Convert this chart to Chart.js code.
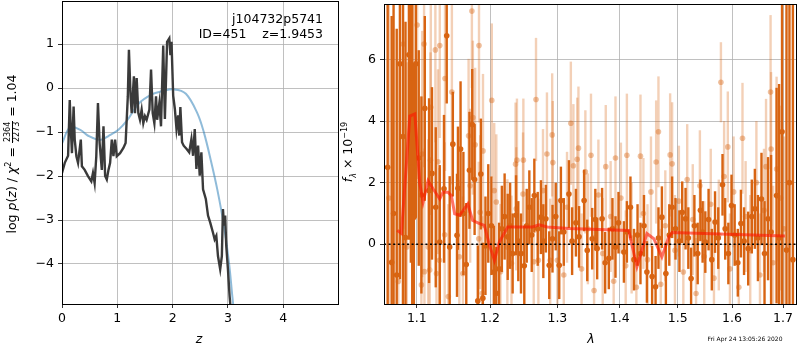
<!DOCTYPE html>
<html>
<head>
<meta charset="utf-8">
<script src="https://cdn.jsdelivr.net/npm/chart.js@4"></script>
<style>
  body { margin: 0; background: #fff; width: 800px; height: 350px; position: relative; overflow: hidden;
         font-family: "DejaVu Sans", sans-serif; color: #000; }
  canvas { position: absolute; top: 0; }
  #pz { left: 0; }
  #spec { left: 345px; }
  .lbl { position: absolute; font-size: 12.5px; white-space: pre; line-height: 1; font-weight: normal; color: #000; }
  .vert { text-align: center; height: 20px; line-height: 20px; transform: rotate(-90deg); }
  .ctr { transform: translate(-50%, -50%); }
  .frac { display: inline-block; vertical-align: middle; text-align: center; font-size: 8px; line-height: 1; }
  .frac span { display: block; padding: 0 1px; }
  .frac .num { border-bottom: 1px solid #000; }
</style>
</head>
<body>
<canvas id="pz" width="345" height="350"></canvas>
<canvas id="spec" width="455" height="350"></canvas>

<div class="lbl vert" style="left:-108px;top:144px;width:240px">log <i>p</i>(<i>z</i>) / <i>χ</i><sup style="font-size:8px;line-height:0">2</sup> = <span class="frac"><span class="num">2364</span><span>2273</span></span> = 1.04</div>
<div class="lbl ctr" style="left:199px;top:339px"><i>z</i></div>
<div class="lbl" style="right:477px;top:13px">j104732p5741</div>
<div class="lbl" style="right:477px;top:28px">ID=451    z=1.9453</div>

<div class="lbl vert" style="left:288px;top:142px;width:120px"><i>f</i><sub style="font-size:8px;line-height:0"><i>λ</i></sub> × 10<sup style="font-size:8px;line-height:0">−19</sup></div>
<div class="lbl ctr" style="left:591px;top:339px"><i>λ</i></div>
<div class="lbl ctr" style="left:745px;top:339px;font-size:6px">Fri Apr 24 13:05:26 2020</div>

<script>
// ---- p(z) panel ----
const zTicks = [0, 1, 2, 3, 4];
const lpzTicks = [-4, -3, -2, -1, 0, 1];

const zGrid = [0, 0.05, 0.11, 0.14, 0.16, 0.18, 0.21, 0.23, 0.26, 0.29, 0.34, 0.36, 0.41, 0.47, 0.53, 0.56, 0.59,
  0.62, 0.65, 0.68, 0.72, 0.75, 0.78, 0.81, 0.84, 0.87, 0.90, 0.93, 0.96, 0.99, 1.05, 1.11, 1.15, 1.19, 1.21,
  1.24, 1.26, 1.30, 1.32, 1.35, 1.38, 1.41, 1.44, 1.47, 1.50, 1.53, 1.58, 1.61, 1.64, 1.67, 1.70, 1.72, 1.76,
  1.79, 1.83, 1.86, 1.90, 1.94, 1.96, 1.98, 2.01, 2.04, 2.07, 2.10, 2.12, 2.14, 2.17, 2.20, 2.25, 2.30, 2.34,
  2.37, 2.40, 2.43, 2.46, 2.49, 2.52, 2.55, 2.60, 2.64, 2.68, 2.73, 2.76, 2.79, 2.82, 2.86, 2.89, 2.91, 2.93,
  2.95, 2.97, 3.00, 3.03, 3.05, 3.08];
const logPz = [-1.93, -1.70, -1.54, -0.27, -0.95, -1.48, -0.42, -1.17, -1.55, -1.70, -1.17, -1.78, -1.86, -2.00,
  -2.12, -1.93, -2.16, -1.55, -0.34, -1.25, -1.86, -0.87, -2.00, -2.08, -1.86, -1.70, -1.17, -1.55, -1.17, -1.55,
  -1.48, -1.36, -1.25, -0.19, 0.87, -0.19, -0.57, 0.27, -0.57, 0.23, -0.57, -0.72, -0.49, -0.80, -0.64, -0.72,
  -0.49, 0.42, -0.57, -0.80, -0.19, -0.72, -0.34, -0.87, 0.97, -0.70, 1.05, 1.13, 0.75, 1.05, -0.17, -0.47,
  -0.93, -0.62, -1.08, -0.43, -1.23, -1.31, -1.38, -1.46, -1.16, -1.54, -0.93, -1.84, -1.31, -1.99, -1.46,
  -2.30, -2.52, -2.90, -3.06, -3.29, -3.44, -3.36, -3.82, -4.12, -3.82, -2.75, -3.13, -2.90, -3.59, -4.12,
  -4.73, -5.03, -5.50];

const zFit = [0, 0.145, 0.33, 0.48, 0.69, 0.84, 1.02, 1.18, 1.39, 1.63, 1.78, 2.03, 2.24, 2.45, 2.57, 2.69, 2.81,
  2.93, 3.02, 3.08, 3.15];
const logPzFit = [-1.26, -0.89, -0.95, -1.09, -1.18, -1.09, -0.95, -0.73, -0.35, -0.14, -0.08, -0.03, -0.13, -0.58,
  -1.03, -1.64, -2.32, -3.15, -3.98, -4.74, -5.60];

// ---- spectrum panel ----
const lamMin = 1.0579, lamMax = 1.7264;
const lamTicks = [1.1, 1.2, 1.3, 1.4, 1.5, 1.6, 1.7];
const fluxTicks = [0, 2, 4, 6];

const darkLam = [1.0625, 1.0676, 1.0700, 1.0740, 1.0781, 1.0820, 1.0853, 1.0897, 1.0922, 1.0940, 1.0961, 1.0987,
  1.1025, 1.1060, 1.1105, 1.1161, 1.1200, 1.1250, 1.1304, 1.1361, 1.1398, 1.1438, 1.1481, 1.1538, 1.1551, 1.1587,
  1.1626, 1.1666, 1.1710, 1.1749, 1.1782, 1.1827, 1.1870, 1.1898, 1.1935, 1.1975, 1.2020, 1.2055, 1.2089, 1.2130,
  1.2170, 1.2210, 1.2255, 1.2290, 1.2327, 1.2377, 1.2410, 1.2450, 1.2499, 1.2535, 1.2574, 1.2610, 1.2649, 1.2700,
  1.2749, 1.2785, 1.2824, 1.2875, 1.2925, 1.2975, 1.3029, 1.3055, 1.3100, 1.3180, 1.3230, 1.3290, 1.3340, 1.3420,
  1.3470, 1.3550, 1.3600, 1.3630, 1.3710, 1.3760, 1.3820, 1.3880, 1.3930, 1.3980, 1.4070, 1.4120, 1.4180, 1.4240,
  1.4300, 1.4350, 1.4410, 1.4460, 1.4550, 1.4610, 1.4660, 1.4720, 1.4790, 1.4850, 1.4900, 1.4960, 1.5030, 1.5080,
  1.5140, 1.5190, 1.5240, 1.5300, 1.5360, 1.5410, 1.5450, 1.5500, 1.5560, 1.5620, 1.5680, 1.5740, 1.5820, 1.5870,
  1.5930, 1.5990, 1.6050, 1.6110, 1.6170, 1.6230, 1.6310, 1.6380, 1.6440, 1.6500, 1.6570, 1.6630, 1.6700, 1.6760,
  1.6870, 1.6920, 1.6980, 1.7070, 1.7130, 1.7200];
const darkFlux = [2.5, -0.59, 1.0, -1.0, 5.86, 3.5, 0.22, 6.15, 5.4, 2.5, 0.88, 5.86,
  2.8, 1.6, 4.41, 1.74, 2.3, 1.2, 0.07, 1.8, 6.77, -0.09, 3.25, 0.29, 1.82, 3.09,
  1.0, -0.66, 2.4, 3.89, 2.1, -1.84, 2.28, -1.75, -0.05, 1.0, 0.6, -0.9, -1.59, -0.8,
  0.5, 0.9, 0.24, 0.6, -0.3, 0.94, 0.1, -0.3, -0.7, 0.6, 1.2, 0.3, 1.58, 0.5,
  0.88, 0.1, 0.83, -0.68, 0.18, 0.9, -0.68, 1.42, 0.4, 1.63, 0.1, 0.7, 0.24, 1.42,
  -0.2, 0.18, 0.8, -0.14, 0.83, -0.6, -0.46, 0.5, -0.09, 0.7, -0.25, 0.4, 1.2, -0.5,
  0.3, -0.3, 0.6, -0.9, -1.05, -1.38, 0.2, 0.88, -0.95, 0.3, 1.2, 0.5, 0.1, 1.04,
  0.83, 0.2, -1.11, 0.6, -0.3, 1.1, 0.4, 0.07, 0.8, -0.5, 0.72, 0.2, 1.93, 0.5,
  -0.3, 1.26, 0.3, -0.6, 0.67, 0.1, -0.14, 0.9, 1.15, 0.2, 1.47, -0.3, 0.83, 0.4,
  1.58, 0.2, 3.65, -0.19, 2.0, -0.5];
const darkErr = [9, 8, 8, 8, 7, 7, 7, 6, 6, 6, 5, 5,
  3.5, 3.2, 3.0, 3.0, 2.8, 2.6, 2.5, 2.4, 2.2, 2.3, 1.7, 2.0, 2.0, 2.2,
  2.0, 2.0, 1.9, 1.8, 1.8, 1.8, 1.8, 1.8, 1.6, 1.6, 1.6, 1.5, 1.5, 1.5,
  1.4, 1.4, 1.4, 1.4, 1.3, 1.3, 1.3, 1.3, 1.3, 1.2, 1.2, 1.2, 1.2, 1.2,
  1.2, 1.2, 1.1, 1.1, 1.1, 1.1, 1.1, 1.1, 1.1, 1.1, 1.1, 1.1, 1.0, 1.0,
  1.0, 1.0, 1.0, 1.0, 1.0, 1.0, 1.0, 1.0, 1.0, 1.0, 1.0, 1.0, 1.0, 1.0,
  1.0, 1.0, 1.0, 1.0, 1.0, 1.0, 1.0, 1.0, 1.0, 1.0, 1.0, 1.0, 1.0, 1.0,
  1.0, 1.0, 1.0, 1.0, 1.0, 1.0, 1.0, 1.0, 1.0, 1.0, 1.0, 1.0, 1.0, 1.0,
  1.0, 1.0, 1.0, 1.1, 1.1, 1.1, 1.2, 1.2, 1.3, 1.4, 1.5, 1.7, 2.0, 2.5,
  3.5, 5, 6, 8, 9, 10];

const lightLam = [1.0640, 1.0760, 1.0823, 1.0870, 1.0950, 1.1004, 1.1060, 1.1070, 1.1095, 1.1100, 1.1150, 1.1170,
  1.1180, 1.1184, 1.1245, 1.1260, 1.1280, 1.1300, 1.1304, 1.1370, 1.1375, 1.1420, 1.1468, 1.1570, 1.1620, 1.1698,
  1.1720, 1.1744, 1.1758, 1.1790, 1.1840, 1.1844, 1.1860, 1.1890, 1.1900, 1.2025, 1.2060, 1.2090, 1.2150, 1.2250,
  1.2310, 1.2370, 1.2380, 1.2390, 1.2480, 1.2485, 1.2640, 1.2674, 1.2710, 1.2780, 1.2840, 1.2890, 1.2920, 1.2930,
  1.3000, 1.3100, 1.3150, 1.3210, 1.3250, 1.3310, 1.3330, 1.3380, 1.3440, 1.3480, 1.3530, 1.3580, 1.3650, 1.3720,
  1.3770, 1.3850, 1.3900, 1.3930, 1.4020, 1.4100, 1.4120, 1.4200, 1.4280, 1.4350, 1.4400, 1.4470, 1.4530, 1.4620,
  1.4660, 1.4700, 1.4780, 1.4865, 1.4900, 1.4950, 1.5020, 1.5100, 1.5170, 1.5270, 1.5330, 1.5400, 1.5480, 1.5600,
  1.5660, 1.5750, 1.5790, 1.5850, 1.5920, 1.5960, 1.6030, 1.6130, 1.6200, 1.6260, 1.6350, 1.6470, 1.6540, 1.6620,
  1.6660, 1.6750, 1.6760, 1.6800, 1.6870, 1.6950, 1.7020];
const lightFlux = [1.5, -1.21, 6.5, -0.09, 3.0, 7.12, -1.32, 2.93, 6.5, -0.89, -0.09, -0.84,
  2.73, 4.45, 6.31, -0.95, 2.68, -0.52, 6.45, 0.31, 5.38, -1.7, 4.94, -0.41, -0.95, 3.52,
  1.9, 7.57, 4.11, 3.23, 0.18, 6.45, 1.04, -1.59, 3.03, 4.67, 1.74, 1.37, -0.89, -0.09,
  -0.62, 2.6, 1.15, 2.73, 1.63, 2.73, -0.57, 4.7, -0.52, 1.74, 2.93, -0.52, 3.55, 2.65,
  -0.52, -1.0, 1.2, 3.93, 2.55, 2.76, 3.12, -0.8, 2.35, 0.5, 2.89, -1.5, 1.6, -0.3,
  2.52, 0.9, -1.2, 2.8, 1.5, -0.7, 2.89, 0.2, -1.4, 2.86, 1.0, -0.5, 1.7, 2.67,
  3.65, -1.3, 0.6, 2.9, 2.61, -0.2, 1.4, -0.9, 2.1, 0.8, -1.6, 1.9, -0.4, 1.3,
  -1.1, 0.3, 5.26, 2.2, 3.16, -0.8, 1.7, -1.4, 3.44, 0.9, -0.2, 2.0, -1.0, 1.1,
  2.52, 4.94, 3.09, -0.6, 2.44, 1.5, 0.5];
const lightErr = [8, 7, 6, 6, 6, 5, 4, 4, 4, 4, 3.5, 3.5,
  3.5, 3.5, 3, 3, 3, 3, 3, 3, 3, 3, 3, 2.5, 2.5, 2.5,
  2.5, 2.5, 2.5, 2.5, 2.5, 2.5, 2.5, 2.5, 2.5, 2.5, 2.2, 2.2, 2.2, 2.2,
  2.2, 2, 2, 2, 2, 2, 2, 2, 2, 2, 2, 2, 2, 2,
  2, 1.8, 1.8, 2, 2, 2, 2, 1.8, 2, 1.8, 2, 1.8, 1.8, 1.8,
  2, 1.8, 1.8, 2, 1.8, 1.8, 2, 1.8, 1.8, 2, 1.8, 1.8, 1.8, 2,
  1.8, 1.8, 1.8, 2, 2, 1.8, 1.8, 1.8, 1.8, 1.8, 1.8, 1.8, 1.8, 1.8,
  1.8, 1.8, 1.3, 1.8, 1.8, 1.8, 1.8, 1.8, 1.8, 1.8, 1.8, 2, 2, 2,
  2.2, 2.5, 2.5, 2.5, 3, 3, 3];

const modelLam = [1.0747, 1.0800, 1.0909, 1.0974, 1.1039, 1.1082, 1.1148, 1.1214, 1.1304, 1.1348, 1.1415, 1.1461,
  1.1506, 1.1574, 1.1687, 1.1755, 1.1852, 1.1919, 1.1992, 1.2063, 1.2133, 1.2255, 1.2471, 1.2622, 1.2720, 1.2845,
  1.3180, 1.4150, 1.4290, 1.4460, 1.4580, 1.4720, 1.4840, 1.4900, 1.7040];
const modelFlux = [0.45, 0.35, 4.16, 4.23, 1.97, 1.37, 2.06, 1.80, 1.47, 1.69, 1.69, 1.58,
  0.99, 0.94, 1.31, 0.77, 0.67, 0.61, -0.03, -0.52, 0.07, 0.56, 0.56, 0.56, 0.63, 0.56,
  0.51, 0.45, -0.73, 0.35, 0.18, -0.41, 0.24, 0.38, 0.27];

const pts = (xs, ys) => xs.map((x, i) => ({ x: x, y: ys[i] }));
const minus = v => (v < 0 ? '\u2212' + (-v) : String(v));

// full box around the axes
const frame = {
  id: 'frame',
  afterDraw(chart) {
    const a = chart.chartArea, ctx = chart.ctx;
    ctx.save();
    ctx.strokeStyle = '#000';
    ctx.lineWidth = 1;
    ctx.strokeRect(Math.round(a.left) + 0.5, Math.round(a.top) + 0.5, Math.round(a.right - a.left), Math.round(a.bottom - a.top));
    ctx.restore();
  }
};

// vertical error bars, drawn just before each dataset's points
const errorBars = {
  id: 'errorBars',
  beforeDatasetDraw(chart, args) {
    const ds = chart.data.datasets[args.index];
    if (!ds.errs) return;
    const { ctx, chartArea: a } = chart;
    const x = chart.scales.x, y = chart.scales.y;
    ctx.save();
    ctx.beginPath();
    ctx.rect(a.left, a.top, a.right - a.left, a.bottom - a.top);
    ctx.clip();
    ctx.strokeStyle = ds.barColor;
    ctx.lineWidth = 2.4;
    ds.data.forEach((p, i) => {
      const px = x.getPixelForValue(p.x);
      ctx.beginPath();
      ctx.moveTo(px, y.getPixelForValue(p.y - ds.errs[i]));
      ctx.lineTo(px, y.getPixelForValue(p.y + ds.errs[i]));
      ctx.stroke();
    });
    ctx.restore();
  }
};

const tickFont = { family: 'DejaVu Sans', size: 12.5 };
const gridStyle = { color: '#b0b0b0', lineWidth: 0.8, tickColor: '#000', tickLength: 4, drawTicks: true };
// fixed axis sizes, no extra room for edge labels
const fitX = s => { s.height = 46; s.paddingLeft = 0; s.paddingRight = 0; };
const fitY = w => s => { s.width = w; s.paddingTop = 0; s.paddingBottom = 0; };

new Chart(document.getElementById('pz'), {
  type: 'scatter',
  data: {
    datasets: [
      {
        data: pts(zGrid, logPz), showLine: true, borderColor: '#3a3a3a', borderWidth: 2.4,
        pointRadius: 0, order: 1, clip: 0
      },
      {
        data: pts(zFit, logPzFit), showLine: true, borderColor: 'rgba(31,119,180,0.5)', borderWidth: 2,
        pointRadius: 0, tension: 0.35, order: 2, clip: 0
      }
    ]
  },
  options: {
    responsive: false, animation: false, events: [],
    layout: { padding: { left: 0, right: 7, top: 1, bottom: 0 } },
    plugins: { legend: { display: false }, tooltip: { enabled: false } },
    scales: {
      x: {
        type: 'linear', min: 0, max: 4.99,
        afterBuildTicks: s => { s.ticks = zTicks.map(v => ({ value: v })); },
        afterFit: fitX,
        grid: gridStyle, border: { color: '#000', width: 1 },
        ticks: { font: tickFont, color: '#000', padding: 3, maxRotation: 0, autoSkip: false, callback: v => minus(v) }
      },
      y: {
        type: 'linear', min: -4.91, max: 1.98,
        afterBuildTicks: s => { s.ticks = lpzTicks.map(v => ({ value: v })); },
        afterFit: fitY(62),
        grid: gridStyle, border: { color: '#000', width: 1 },
        ticks: { font: tickFont, color: '#000', padding: 4, autoSkip: false, callback: v => minus(v) }
      }
    }
  },
  plugins: [frame]
});

new Chart(document.getElementById('spec'), {
  type: 'scatter',
  data: {
    datasets: [
      {
        data: pts(lightLam, lightFlux), errs: lightErr, barColor: 'rgba(216,100,18,0.3)',
        backgroundColor: 'rgba(216,100,18,0.4)', borderWidth: 0, pointRadius: 2.8, order: 5, clip: 0
      },
      {
        data: pts(darkLam, darkFlux), errs: darkErr, barColor: 'rgb(216,100,18)',
        backgroundColor: 'rgb(216,100,18)', borderWidth: 0, pointRadius: 2.8, order: 4, clip: 0
      },
      {
        data: pts(modelLam, modelFlux), showLine: true, borderColor: 'rgba(255,20,0,0.6)', borderWidth: 3,
        pointRadius: 0, order: 3, clip: 0
      },
      {
        data: [{ x: lamMin, y: 0 }, { x: lamMax, y: 0 }], showLine: true, borderColor: '#000', borderWidth: 1.6,
        borderDash: [2, 2.6], pointRadius: 0, order: 2, clip: 0
      }
    ]
  },
  options: {
    responsive: false, animation: false, events: [],
    layout: { padding: { left: 0, right: 2, top: 1, bottom: 0 } },
    plugins: { legend: { display: false }, tooltip: { enabled: false } },
    scales: {
      x: {
        type: 'logarithmic', min: lamMin, max: lamMax,
        afterBuildTicks: s => { s.ticks = lamTicks.map(v => ({ value: v })); },
        afterFit: fitX,
        grid: gridStyle, border: { color: '#000', width: 1 },
        ticks: { font: tickFont, color: '#000', padding: 3, maxRotation: 0, autoSkip: false, callback: v => Number(v).toFixed(1) }
      },
      y: {
        type: 'linear', min: -1.94, max: 7.8,
        afterBuildTicks: s => { s.ticks = fluxTicks.map(v => ({ value: v })); },
        afterFit: fitY(39),
        grid: gridStyle, border: { color: '#000', width: 1 },
        ticks: { font: tickFont, color: '#000', padding: 4, autoSkip: false, callback: v => minus(v) }
      }
    }
  },
  plugins: [errorBars, frame]
});
</script>
</body>
</html>
